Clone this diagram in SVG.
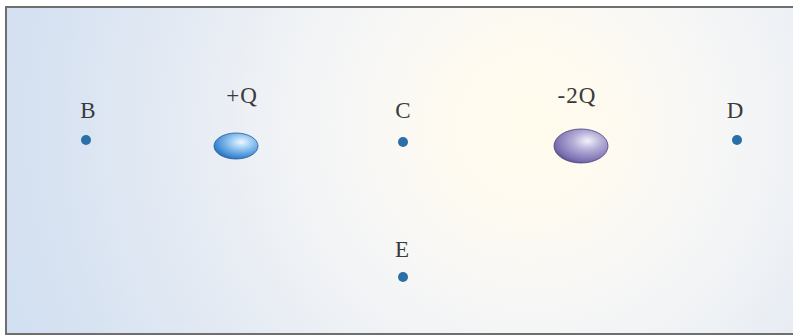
<svg xmlns="http://www.w3.org/2000/svg" width="793" height="336" viewBox="0 0 793 336">
<defs>
<radialGradient id="bg" cx="530" cy="125" r="540" gradientUnits="userSpaceOnUse">
<stop offset="0" stop-color="#fffbec"/>
<stop offset="0.15" stop-color="#fefaf0"/>
<stop offset="0.33" stop-color="#f7f7f6"/>
<stop offset="0.5" stop-color="#eef1f5"/>
<stop offset="0.7" stop-color="#e2e9f3"/>
<stop offset="0.88" stop-color="#d8e3f2"/>
<stop offset="1" stop-color="#d3e0f1"/>
</radialGradient>
<radialGradient id="blue" cx="0.62" cy="0.35" r="0.75">
<stop offset="0" stop-color="#eef7ff"/>
<stop offset="0.35" stop-color="#96c8f2"/>
<stop offset="0.8" stop-color="#3a86d0"/>
<stop offset="1" stop-color="#24599a"/>
</radialGradient>
<radialGradient id="purple" cx="0.62" cy="0.35" r="0.75">
<stop offset="0" stop-color="#f4f2fb"/>
<stop offset="0.35" stop-color="#b6afd8"/>
<stop offset="0.8" stop-color="#7a6fb0"/>
<stop offset="1" stop-color="#4a417c"/>
</radialGradient>
<style>
.lbl{font-family:"Liberation Serif","Times New Roman",serif;font-size:23px;fill:#3a3a3a;text-anchor:middle}
.dot{fill:#2a6fa8}
</style>
</defs>
<rect x="0" y="0" width="793" height="336" fill="#ffffff"/>
<rect x="6" y="7" width="800" height="327" fill="url(#bg)" stroke="#6f6f6f" stroke-width="2"/>
<g id="B"><text class="lbl" x="88" y="118">B</text><circle class="dot" cx="86" cy="140" r="5"/></g>
<g id="Qp"><text class="lbl" x="242" y="103" letter-spacing="1">+Q</text><ellipse cx="236" cy="146" rx="22" ry="13" fill="url(#blue)" stroke="#24599a" stroke-width="0.8"/></g>
<g id="C"><text class="lbl" x="403" y="118">C</text><circle class="dot" cx="403" cy="142" r="5"/></g>
<g id="Q2"><text class="lbl" x="577" y="103" letter-spacing="1">-2Q</text><ellipse cx="581" cy="146" rx="27" ry="17" fill="url(#purple)" stroke="#4a417c" stroke-width="0.8"/></g>
<g id="D"><text class="lbl" x="735" y="118">D</text><circle class="dot" cx="737" cy="140" r="5"/></g>
<g id="E"><text class="lbl" x="402" y="257">E</text><circle class="dot" cx="403" cy="277" r="5"/></g>
<g id="connectors"></g>
</svg>
